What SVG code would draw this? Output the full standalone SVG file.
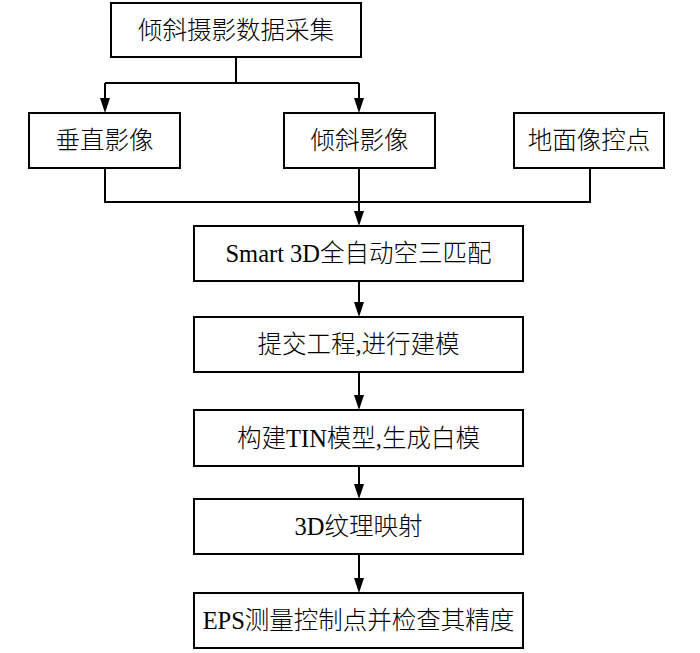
<svg xmlns="http://www.w3.org/2000/svg" width="700" height="653" viewBox="0 0 700 653">
<defs>
<style>
.box{fill:#fff;stroke:#000;stroke-width:2}
.t{font-family:"Liberation Serif","Noto Sans CJK SC",serif;font-size:24.5px;fill:#000;text-anchor:middle;font-weight:300}
.ln{fill:none;stroke:#000;stroke-width:2}
</style>
</defs>
<rect width="700" height="653" fill="#fff"/>
<g id="connectors">
<path class="ln" d="M236,57 V83 M105,83 H359"/>
<polyline class="ln" points="105,83 105,100"/>
<polygon points="100,98 110,98 105,113" fill="#000"/>
<polyline class="ln" points="359,83 359,100"/>
<polygon points="354,98 364,98 359,113" fill="#000"/>
<path class="ln" d="M105,168 V202 H590 V168 M359,168 V212"/>
<polygon points="354,211 364,211 359,226" fill="#000"/>
<path class="ln" d="M359,281 V304"/>
<polygon points="354,302 364,302 359,317" fill="#000"/>
<path class="ln" d="M359,372 V397"/>
<polygon points="354,395 364,395 359,410" fill="#000"/>
<path class="ln" d="M359,466 V486"/>
<polygon points="354,484 364,484 359,499" fill="#000"/>
<path class="ln" d="M359,554 V580"/>
<polygon points="354,578 364,578 359,593" fill="#000"/>
</g>
<g id="n1"><rect class="box" x="111" y="3" width="250" height="54"/><text class="t" x="236" y="38.5">倾斜摄影数据采集</text></g>
<g id="n2"><rect class="box" x="29" y="113" width="151" height="55"/><text class="t" x="104.5" y="149">垂直影像</text></g>
<g id="n3"><rect class="box" x="284" y="113" width="151" height="55"/><text class="t" x="359.5" y="149">倾斜影像</text></g>
<g id="n4"><rect class="box" x="514" y="113" width="150" height="55"/><text class="t" x="589" y="149">地面像控点</text></g>
<g id="n5"><rect class="box" x="194" y="226" width="329" height="55"/><text class="t" x="358.5" y="262">Smart 3D全自动空三匹配</text></g>
<g id="n6"><rect class="box" x="194" y="317" width="329" height="55"/><text class="t" x="358.5" y="353">提交工程,进行建模</text></g>
<g id="n7"><rect class="box" x="194" y="410" width="329" height="56"/><text class="t" x="358.5" y="447">构建TIN模型,生成白模</text></g>
<g id="n8"><rect class="box" x="194" y="499" width="329" height="55"/><text class="t" x="358.5" y="535">3D纹理映射</text></g>
<g id="n9"><rect class="box" x="194" y="593" width="329" height="55"/><text class="t" x="358.5" y="629">EPS测量控制点并检查其精度</text></g>
</svg>
